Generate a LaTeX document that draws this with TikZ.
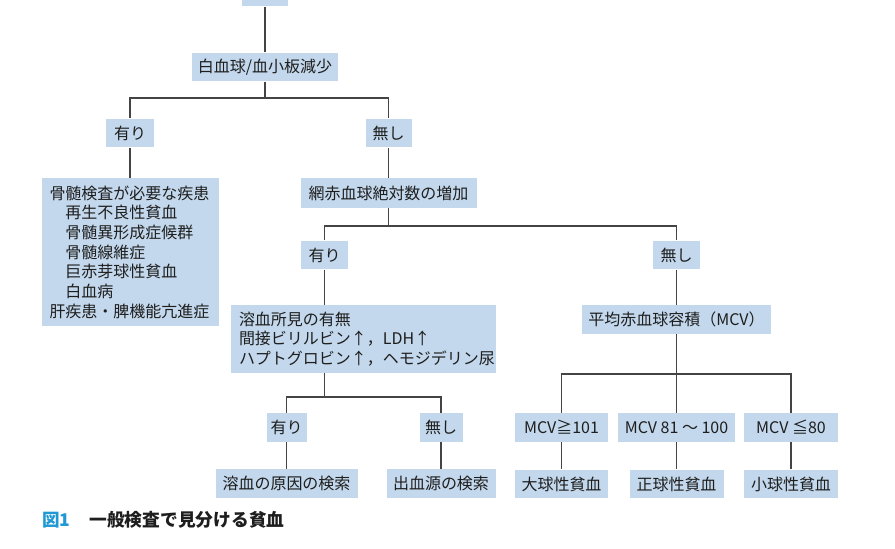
\documentclass[tikz,border=0pt]{standalone}
\usepackage{fontspec}
\setmainfont{Noto Sans CJK JP}
\usetikzlibrary{positioning, calc}
\definecolor{boxblue}{RGB}{195,216,236}
\definecolor{linegray}{RGB}{68,68,68}
\definecolor{textgray}{RGB}{30,30,30}
\definecolor{figblue}{RGB}{32,152,212}

\begin{document}
\begin{tikzpicture}[
  box/.style={rectangle, fill=boxblue, inner sep=0pt,
              minimum height=0.57cm, align=center, text=textgray,
              font=\fontsize{9.1}{11.2}\selectfont},
  listbox/.style={box, align=left, inner xsep=0.16cm},
  link/.style={draw=linegray, line width=0.9pt, line join=miter},
]
\useasboundingbox (0,0) rectangle (17.9,-10.96);

%% ── Level 0/1 ───────────────────────────────────────────────────────
\node[box, minimum width=0.92cm] (root) at (5.30, 0.16) {};
\node[box, minimum width=2.92cm] (wbc)  at (5.30,-1.34) {白血球/血小板減少};
\node[box, minimum width=0.96cm] (yes1) at (2.60,-2.66) {有り};
\node[box, minimum width=0.92cm] (no1)  at (7.77,-2.66) {無し};

%% ── Left column: marrow ─────────────────────────────────────────────
\node[listbox, text width=3.22cm, minimum height=2.96cm] (marrow) at (2.60,-5.04)
     {骨髄検査が必要な疾患\\
      \hspace*{1em}再生不良性貧血\\
      \hspace*{1em}骨髄異形成症候群\\
      \hspace*{1em}骨髄線維症\\
      \hspace*{1em}巨赤芽球性貧血\\
      \hspace*{1em}白血病\\
      肝疾患・脾機能亢進症};

%% ── Reticulocytes ───────────────────────────────────────────────────
\node[box, minimum width=3.52cm, minimum height=0.6cm] (retic) at (7.77,-3.86) {網赤血球絶対数の増加};
\node[box, minimum width=0.94cm] (yes2) at (6.49,-5.10) {有り};
\node[box, minimum width=0.94cm] (no2)  at (13.53,-5.10) {無し};

%% ── Hemolysis branch ────────────────────────────────────────────────
\node[listbox, text width=4.98cm, minimum height=1.36cm] (hemo) at (7.27,-6.78)
     {溶血所見の有無\\
      間接ビリルビン↑，LDH↑\\
      ハプトグロビン↑，ヘモジデリン尿};
\node[box, minimum width=0.80cm] (yes3)  at (5.73,-8.55) {有り};
\node[box, minimum width=0.86cm] (no3)   at (8.82,-8.55) {無し};
\node[box, minimum width=2.84cm] (cause) at (5.73,-9.67) {溶血の原因の検索};
\node[box, minimum width=2.18cm] (bleed) at (8.82,-9.67) {出血源の検索};

%% ── MCV branch ──────────────────────────────────────────────────────
\node[box, minimum width=3.78cm] (mcv) at (13.53,-6.39) {平均赤血球容積（MCV）};
\node[box, minimum width=1.86cm] (m1)  at (11.23,-8.55) {MCV≧101};
\node[box, minimum width=2.34cm] (m2)  at (13.53,-8.55) {MCV 81 ～ 100};
\node[box, minimum width=1.88cm] (m3)  at (15.82,-8.55) {MCV ≦80};
\node[box, minimum width=1.86cm] (d1)  at (11.23,-9.68) {大球性貧血};
\node[box, minimum width=1.88cm] (d2)  at (13.53,-9.68) {正球性貧血};
\node[box, minimum width=1.88cm] (d3)  at (15.82,-9.68) {小球性貧血};

%% ── Branch points ───────────────────────────────────────────────────
\coordinate (br1) at (5.30,-1.96);
\coordinate (br2) at (7.77,-4.52);
\coordinate (br3) at (6.49,-7.94);
\coordinate (br4) at (13.53,-7.48);

%% ── Connectors ──────────────────────────────────────────────────────
\draw[link] (root.south) -- (wbc.north);
\draw[link] (wbc.south) -- (br1);
\draw[link] (yes1.north) |- (br1) -| (no1.north);
\draw[link] (yes1.south) -- (marrow.north);
\draw[link] (no1.south) -- (retic.north);

\draw[link] (retic.south) -- (br2);
\draw[link] (yes2.north) |- (br2) -| (no2.north);
\draw[link] (yes2.south) -- (yes2.south |- hemo.north);
\draw[link] (yes2.south |- hemo.south) -- (br3);
\draw[link] (yes3.north) |- (br3) -| (no3.north);
\draw[link] (yes3.south) -- (cause.north);
\draw[link] (no3.south) -- (bleed.north);

\draw[link] (no2.south) -- (mcv.north);
\draw[link] (mcv.south) -- (m2.north);
\draw[link] (m1.north) |- (br4) -| (m3.north);
\draw[link] (m1.south) -- (d1.north);
\draw[link] (m2.south) -- (d2.north);
\draw[link] (m3.south) -- (d3.north);

%% ── Caption ─────────────────────────────────────────────────────────
\node[anchor=west, inner sep=0pt, text=figblue, font=\fontsize{10}{11}\selectfont\bfseries]
     (fig) at (0.84,-10.40) {図1};
\node[anchor=west, inner sep=0pt, text=textgray, font=\fontsize{10.1}{11}\selectfont\bfseries]
     (cap) at (1.78,-10.40) {一般検査で見分ける貧血};

\end{tikzpicture}
\end{document}
